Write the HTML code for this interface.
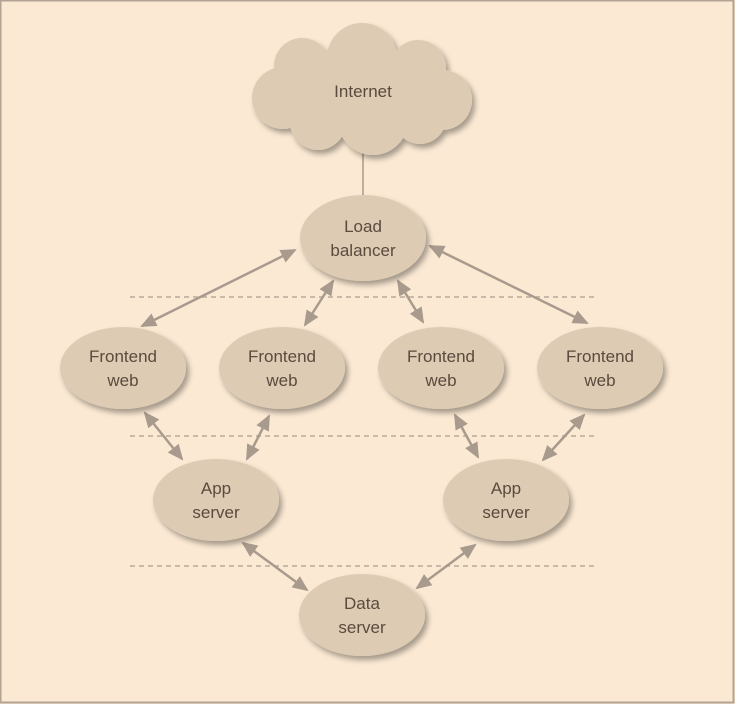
<!DOCTYPE html>
<html><head><style>
html,body{margin:0;padding:0;background:#fbe9d3;}
svg{display:block;}
text{font-family:"Liberation Sans",sans-serif;font-size:17px;fill:#5b4a3e;text-anchor:middle;}
</style></head><body>
<svg width="735" height="704" viewBox="0 0 735 704" xmlns="http://www.w3.org/2000/svg">
<defs>
<filter id="sh" x="-30%" y="-30%" width="160%" height="170%">
<feGaussianBlur in="SourceAlpha" stdDeviation="3"/>
<feOffset dx="3" dy="4" result="b"/>
<feComponentTransfer><feFuncA type="linear" slope="0.35"/></feComponentTransfer>
<feMerge><feMergeNode/><feMergeNode in="SourceGraphic"/></feMerge>
</filter>
<marker id="ah" markerWidth="16" markerHeight="14" refX="14" refY="7" orient="auto-start-reverse" markerUnits="userSpaceOnUse" viewBox="0 0 16 14">
<path d="M0,0 L16,7 L0,14 z" fill="#a89a8c"/>
</marker>
</defs>
<rect x="0.5" y="0.5" width="733" height="702" fill="#fbe9d3" stroke="#b3a394" stroke-width="2"/>
<g stroke="#b8a999" stroke-width="1.5" stroke-dasharray="5,4">
<line x1="130" y1="297" x2="595" y2="297"/>
<line x1="130" y1="436" x2="595" y2="436"/>
<line x1="130" y1="566" x2="595" y2="566"/>
</g>
<line x1="363" y1="150" x2="363" y2="200" stroke="#a89a8c" stroke-width="1.5"/>
<g stroke="#a89a8c" stroke-width="2.5" fill="none" marker-start="url(#ah)" marker-end="url(#ah)">
<line x1="295" y1="250" x2="142" y2="326"/>
<line x1="333" y1="281" x2="305" y2="325"/>
<line x1="398" y1="281" x2="423" y2="322"/>
<line x1="430" y1="246" x2="587" y2="323"/>
<line x1="145" y1="413" x2="182" y2="459"/>
<line x1="269" y1="416" x2="247" y2="459"/>
<line x1="455" y1="415" x2="478" y2="457"/>
<line x1="584" y1="415" x2="543" y2="460"/>
<line x1="243" y1="543" x2="307" y2="590"/>
<line x1="475" y1="545" x2="417" y2="588"/>
</g>
<g fill="#ddcbb3" filter="url(#sh)">
<g>
<circle cx="302" cy="66" r="28"/>
<circle cx="362" cy="58" r="35"/>
<circle cx="418" cy="68" r="28"/>
<circle cx="283" cy="98" r="31"/>
<circle cx="442" cy="100" r="30"/>
<circle cx="318" cy="122" r="28"/>
<circle cx="373" cy="120" r="35"/>
<circle cx="420" cy="118" r="26"/>
<ellipse cx="362" cy="95" rx="100" ry="42"/>
</g>
<ellipse cx="363" cy="238" rx="63" ry="43"/>
<ellipse cx="123" cy="368" rx="63" ry="41"/>
<ellipse cx="282" cy="368" rx="63" ry="41"/>
<ellipse cx="441" cy="368" rx="63" ry="41"/>
<ellipse cx="600" cy="368" rx="63" ry="41"/>
<ellipse cx="216" cy="500" rx="63" ry="41"/>
<ellipse cx="506" cy="500" rx="63" ry="41"/>
<ellipse cx="362" cy="615" rx="63" ry="41"/>
</g>
<text x="363" y="97">Internet</text>
<text x="363" y="232">Load</text><text x="363" y="256">balancer</text>
<text x="123" y="362">Frontend</text><text x="123" y="386">web</text>
<text x="282" y="362">Frontend</text><text x="282" y="386">web</text>
<text x="441" y="362">Frontend</text><text x="441" y="386">web</text>
<text x="600" y="362">Frontend</text><text x="600" y="386">web</text>
<text x="216" y="494">App</text><text x="216" y="518">server</text>
<text x="506" y="494">App</text><text x="506" y="518">server</text>
<text x="362" y="609">Data</text><text x="362" y="633">server</text>
</svg>
</body></html>
